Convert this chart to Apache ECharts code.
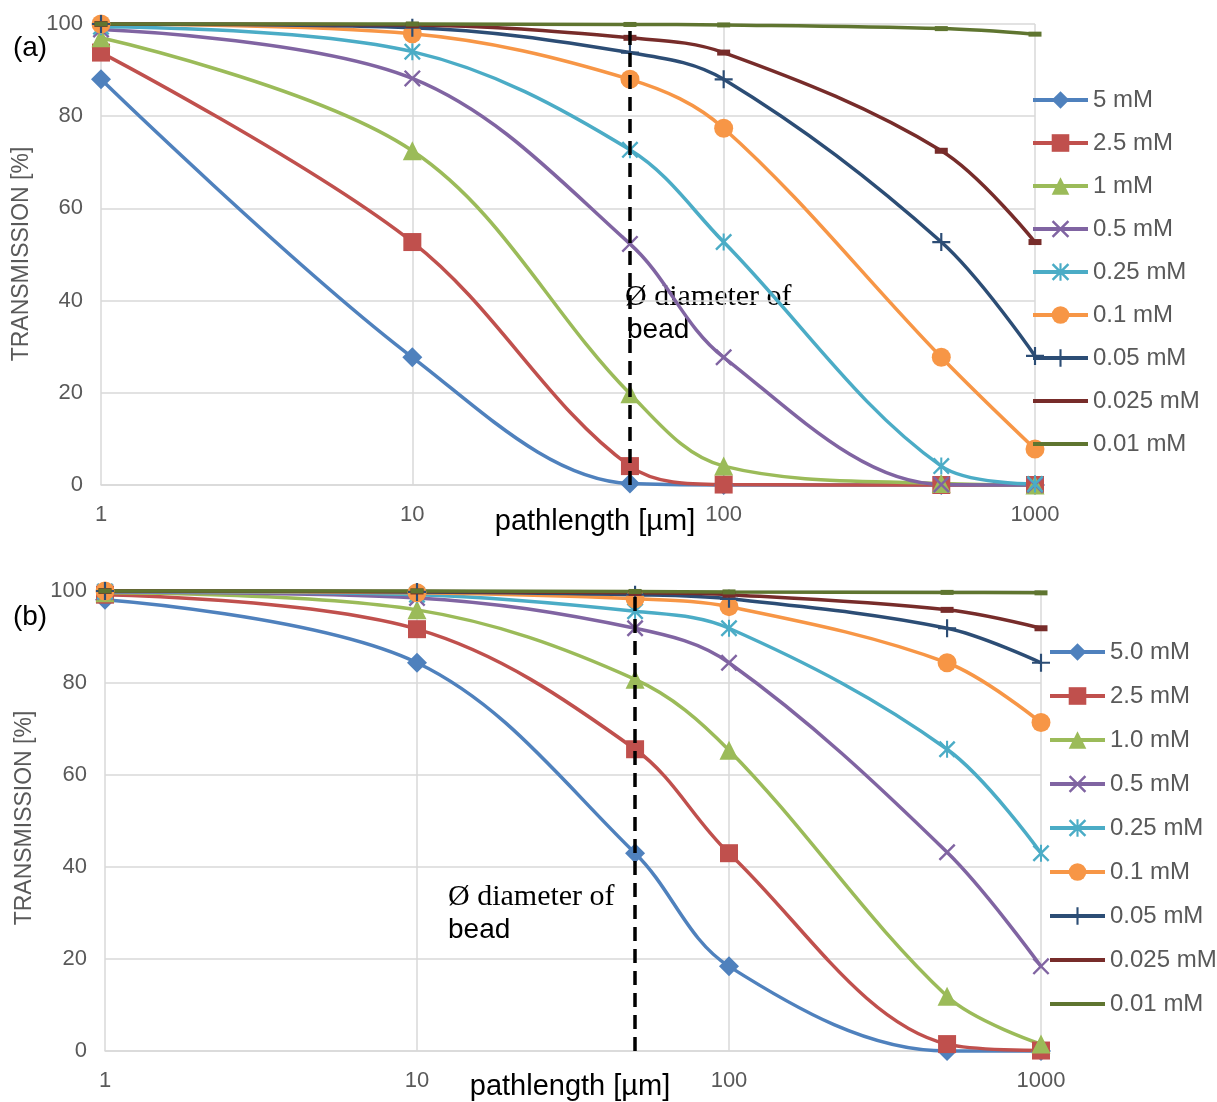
<!DOCTYPE html>
<html>
<head>
<meta charset="utf-8">
<script src="https://cdn.jsdelivr.net/npm/echarts@6/dist/echarts.min.js"></script>
<style>html,body{margin:0;padding:0;background:#fff}#chart{width:1217px;height:1102px}</style>
</head>
<body>
<div id="chart"></div>
<script>
// ---- data ----
const pathlength = [1, 10, 50, 100, 500, 1000];
const namesA = ['5 mM', '2.5 mM', '1 mM', '0.5 mM', '0.25 mM', '0.1 mM', '0.05 mM', '0.025 mM', '0.01 mM'];
const namesB = ['5.0 mM', '2.5 mM', '1.0 mM', '0.5 mM', '0.25 mM', '0.1 mM', '0.05 mM', '0.025 mM', '0.01 mM'];

const a_5 = [88, 27.7, 0.3, 0, 0, 0];
const a_2_5 = [93.8, 52.7, 4.1, 0.1, 0, 0];
const a_1 = [97, 72.5, 19.8, 4.1, 0.3, 0];
const a_0_5 = [98.8, 88.2, 52.3, 27.7, 0.1, 0];
const a_0_25 = [99.4, 94, 72.7, 52.7, 4.1, 0.2];
const a_0_1 = [100, 97.9, 88, 77.4, 27.7, 7.8];
const a_0_05 = [100, 99.2, 93.8, 88, 52.7, 28];
const a_0_025 = [100, 99.8, 97, 93.8, 72.5, 52.7];
const a_0_01 = [100, 100, 99.9, 99.8, 99, 97.8];

const b_5 = [98.1, 84.4, 43, 18.4, 0, 0];
const b_2_5 = [99.2, 91.7, 65.6, 43, 1.5, 0.1];
const b_1 = [99.6, 95.9, 80.8, 65.4, 11.9, 1.5];
const b_0_5 = [99.8, 98.5, 91.9, 84.4, 43.2, 18.4];
const b_0_25 = [99.9, 99.2, 95.6, 91.9, 65.6, 43];
const b_0_1 = [100, 99.6, 98.3, 96.6, 84.4, 71.4];
const b_0_05 = [100, 99.8, 99.2, 98.3, 91.9, 84.4];
const b_0_025 = [100, 99.9, 99.6, 99.2, 95.9, 91.9];
const b_0_01 = [100, 100, 99.9, 99.8, 99.7, 99.6];

const yTicks = [0, 20, 40, 60, 80, 100];
const beadSize = 50;

const seriesA = [a_5, a_2_5, a_1, a_0_5, a_0_25, a_0_1, a_0_05, a_0_025, a_0_01];
const seriesB = [b_5, b_2_5, b_1, b_0_5, b_0_25, b_0_1, b_0_05, b_0_025, b_0_01];

// ---- styles ----
const colors = ['#4F81BD', '#C0504D', '#9BBB59', '#8064A2', '#4BACC6', '#F79646', '#2C4D75', '#772C2A', '#5F7530'];
const X_PATH = 'path://M1,0 L5,4 L9,0 L10,1 L6,5 L10,9 L9,10 L5,6 L1,10 L0,9 L4,5 L0,1 Z';
const AST_PATH = 'path://M1,0 L5,4 L9,0 L10,1 L6,5 L10,9 L9,10 L5,6 L1,10 L0,9 L4,5 L0,1 Z M4.4,0 L5.6,0 L5.6,10 L4.4,10 Z';
const PLUS_PATH = 'path://M4.4,0 L5.6,0 L5.6,4.4 L10,4.4 L10,5.6 L5.6,5.6 L5.6,10 L4.4,10 L4.4,5.6 L0,5.6 L0,4.4 L4.4,4.4 Z';
const LINE_ICON = 'path://M0,0 L55,0 L55,4 L0,4 Z';
const symbols = ['diamond', 'rect', 'triangle', X_PATH, AST_PATH, 'circle', PLUS_PATH, 'rect', 'rect'];
const symbolSizes = [20, 18, 19, 17, 17, 19, 18, [13, 6], [13, 5]];

const FONT = 'Liberation Sans, Arial, sans-serif';
const SERIF = 'Liberation Serif, Times New Roman, serif';

function buildSeries(arr, names, idx) {
  return arr.map((vals, i) => {
    const s = {
      name: names[i],
      type: 'line',
      xAxisIndex: idx,
      yAxisIndex: idx,
      data: pathlength.map((x, k) => [x, vals[k]]),
      smooth: 0.35,
      symbol: symbols[i],
      symbolSize: symbolSizes[i],
      showAllSymbol: true,
      clip: false,
      lineStyle: { color: colors[i], width: 3.5 },
      itemStyle: { color: colors[i] },
      emphasis: { disabled: true },
      animation: false
    };
    if (i === arr.length - 1) {
      s.markLine = {
        silent: true,
        symbol: ['none', 'none'],
        label: { show: false },
        lineStyle: { color: '#000', type: [14, 8], width: 3.5 },
        data: [{ xAxis: beadSize }],
        animation: false
      };
    }
    return s;
  });
}

function xAxisCfg(idx) {
  return {
    type: 'log', logBase: 10, min: 1, max: 1000, gridIndex: idx,
    axisLine: { show: true, lineStyle: { color: '#d9d9d9', width: 1.5 } },
    axisTick: { show: false },
    axisLabel: { color: '#595959', fontSize: 22, fontFamily: FONT, margin: 19, formatter: v => String(Math.round(v)) },
    splitLine: { show: true, lineStyle: { color: '#d9d9d9', width: 1.5 } }
  };
}
function yAxisCfg(idx) {
  return {
    type: 'value', min: yTicks[0], max: yTicks[yTicks.length - 1], interval: yTicks[1] - yTicks[0], gridIndex: idx,
    axisLine: { show: false },
    axisTick: { show: false },
    axisLabel: { color: '#595959', fontSize: 22, fontFamily: FONT, margin: 18 },
    splitLine: { show: true, lineStyle: { color: '#d9d9d9', width: 1.5 } }
  };
}

function legendData(names) {
  return names.map((n, i) => i >= 7 ? { name: n, icon: LINE_ICON, itemStyle: { color: colors[i] } } : n);
}

function txt(text, x, y, opts) {
  return {
    type: 'text', x: x, y: y, silent: true,
    style: Object.assign({ text: text, fontFamily: FONT, fontSize: 22, fill: '#000', textAlign: 'center', textVerticalAlign: 'middle' }, opts || {})
  };
}

const chart = echarts.init(document.getElementById('chart'), null, { renderer: 'canvas' });
chart.setOption({
  backgroundColor: '#fff',
  animation: false,
  grid: [
    { left: 101, top: 24, width: 934, height: 461 },
    { left: 105, top: 591, width: 936, height: 460 }
  ],
  xAxis: [xAxisCfg(0), xAxisCfg(1)],
  yAxis: [yAxisCfg(0), yAxisCfg(1)],
  legend: [
    {
      orient: 'vertical', left: 1026, top: 83, itemWidth: 55, itemHeight: 22, itemGap: 19,
      lineStyle: { width: 4 },
      data: legendData(namesA), textStyle: { color: '#595959', fontSize: 24, fontFamily: FONT }, selectedMode: false
    },
    {
      orient: 'vertical', left: 1043, top: 635, itemWidth: 55, itemHeight: 22, itemGap: 20,
      lineStyle: { width: 4 },
      data: legendData(namesB), textStyle: { color: '#595959', fontSize: 24, fontFamily: FONT }, selectedMode: false
    }
  ],
  series: buildSeries(seriesA, namesA, 0).concat(buildSeries(seriesB, namesB, 1)),
  graphic: [
    txt('(a)', 30, 48, { fontSize: 28 }),
    txt('(b)', 30, 617, { fontSize: 28 }),
    Object.assign(txt('TRANSMISSION [%]', 0, 0, { fill: '#595959', fontSize: 23 }), { x: 22, y: 254, rotation: Math.PI / 2 }),
    Object.assign(txt('TRANSMISSION [%]', 0, 0, { fill: '#595959', fontSize: 23 }), { x: 25, y: 818, rotation: Math.PI / 2 }),
    txt('pathlength [µm]', 595, 522, { fontSize: 29 }),
    txt('pathlength [µm]', 570, 1087, { fontSize: 29 }),
    txt('Ø diameter of', 625, 297, { textAlign: 'left', fontFamily: SERIF, fontSize: 30 }),
    txt('bead', 627, 330, { textAlign: 'left', fontSize: 28 }),
    txt('Ø diameter of', 448, 897, { textAlign: 'left', fontFamily: SERIF, fontSize: 30 }),
    txt('bead', 448, 930, { textAlign: 'left', fontSize: 28 })
  ]
});
</script>
</body>
</html>
